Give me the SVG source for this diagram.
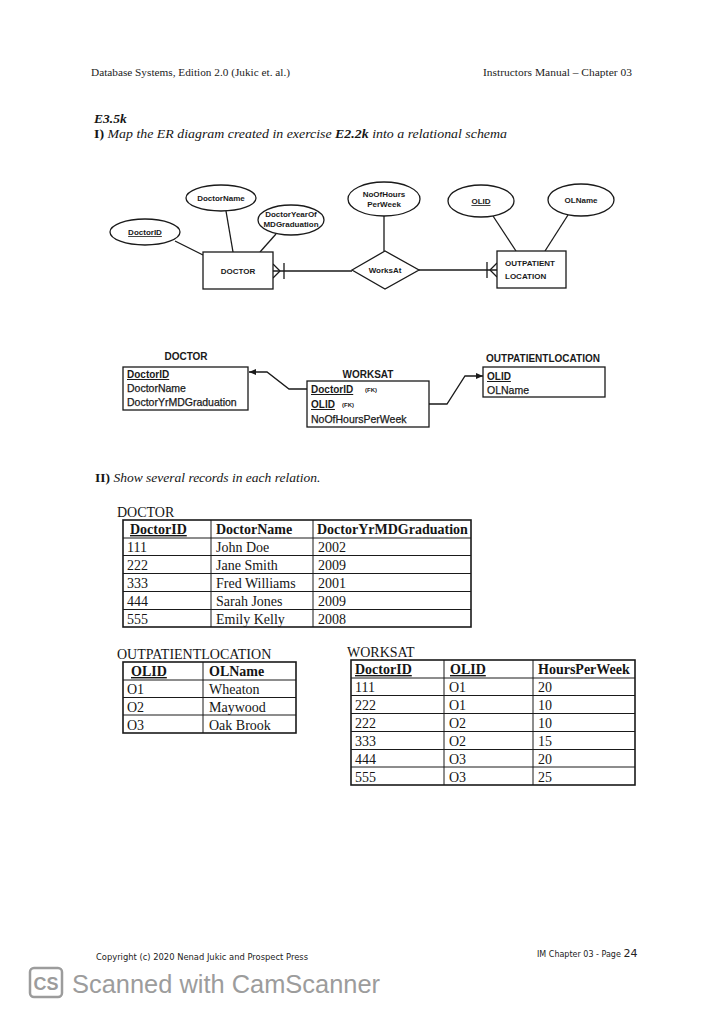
<svg xmlns="http://www.w3.org/2000/svg" width="727" height="1024" viewBox="0 0 727 1024">
<style>
.hdr{font-family:"Liberation Serif",serif;font-size:10.5px;fill:#222}
.er{font-family:"Liberation Sans",Arial,sans-serif;font-size:8px;font-weight:bold;fill:#1a1a1a;text-anchor:middle}
.shape{fill:#fff;stroke:#1a1a1a;stroke-width:1.3}
.ln{fill:none;stroke:#1a1a1a;stroke-width:1.3}
.sc{font-family:"Liberation Sans",Arial,sans-serif;font-size:10px;font-weight:bold;fill:#1a1a1a}
.scn{font-family:"Liberation Sans",Arial,sans-serif;font-size:10.5px;fill:#1a1a1a;stroke:#1a1a1a;stroke-width:0.25}
.fk{font-family:"Liberation Sans",Arial,sans-serif;font-size:6px;font-weight:bold;fill:#1a1a1a}
.tb{font-family:"Liberation Serif","Times New Roman",serif;font-size:14px;fill:#151515}
.th{font-family:"Liberation Serif","Times New Roman",serif;font-size:14px;font-weight:bold;fill:#151515}
.u{text-decoration:underline}
.outer{fill:#fff;stroke:#1a1a1a;stroke-width:1.6}
.grid{stroke:#1a1a1a;stroke-width:1}
.it{font-family:"Liberation Serif","Times New Roman",serif;font-size:13.5px;font-style:italic;fill:#151515}
.ft{font-family:"DejaVu Sans",sans-serif;font-size:8px;fill:#222}
</style>
<defs>
<marker id="arr" markerWidth="8" markerHeight="8" refX="7" refY="4" orient="auto" markerUnits="userSpaceOnUse">
<path d="M0,1 L7,4 L0,7 Z" fill="#1a1a1a"/>
</marker>
</defs>
<rect x="0" y="0" width="727" height="1024" fill="#ffffff"/>

<!-- Header -->
<g id="header">
<text class="hdr" x="91" y="76" textLength="199" lengthAdjust="spacingAndGlyphs">Database Systems, Edition 2.0 (Jukic et. al.)</text>
<text class="hdr" x="483" y="76" textLength="149" lengthAdjust="spacingAndGlyphs">Instructors Manual – Chapter 03</text>
<text x="94" y="123" style="font-family:'Liberation Serif',serif;font-size:13.5px;font-style:italic;font-weight:bold;fill:#151515">E3.5k</text>
<text x="94" y="138" class="it" textLength="413" lengthAdjust="spacingAndGlyphs"><tspan style="font-style:normal;font-weight:bold">I)</tspan> Map the ER diagram created in exercise <tspan font-weight="bold">E2.2k</tspan> into a relational schema</text>
</g>

<!-- ER diagram connectors -->
<g id="er-connectors">
<line class="ln" x1="175" y1="241" x2="203" y2="255"/>
<line class="ln" x1="226" y1="211" x2="233" y2="252"/>
<line class="ln" x1="276" y1="234" x2="260" y2="252"/>
<line class="ln" x1="384" y1="216" x2="384" y2="251"/>
<line class="ln" x1="493" y1="216" x2="516" y2="251"/>
<line class="ln" x1="568" y1="215" x2="545" y2="251"/>
<line class="ln" x1="273" y1="271" x2="352" y2="271"/>
<line class="ln" x1="273" y1="264" x2="280" y2="271"/>
<line class="ln" x1="273" y1="278" x2="280" y2="271"/>
<line class="ln" x1="284" y1="263" x2="284" y2="279"/>
<line class="ln" x1="419" y1="270" x2="497" y2="270"/>
<line class="ln" x1="497" y1="263" x2="490" y2="270"/>
<line class="ln" x1="497" y1="277" x2="490" y2="270"/>
<line class="ln" x1="487" y1="262" x2="487" y2="278"/>
</g>

<g id="er-doctorname"><ellipse class="shape" cx="221" cy="198" rx="35" ry="13"/><text class="er" x="221" y="201">DoctorName</text></g>
<g id="er-doctorid"><ellipse class="shape" cx="145" cy="232" rx="35" ry="13"/><text class="er u" x="145" y="235">DoctorID</text></g>
<g id="er-doctoryear"><ellipse class="shape" cx="291" cy="220" rx="33" ry="15"/><text class="er" x="291" y="217">DoctorYearOf</text><text class="er" x="291" y="227">MDGraduation</text></g>
<g id="er-doctor"><rect class="shape" x="203" y="252" width="70" height="37"/><text class="er" x="238" y="274">DOCTOR</text></g>
<g id="er-noofhours"><ellipse class="shape" cx="384" cy="199" rx="36" ry="17"/><text class="er" x="384" y="197">NoOfHours</text><text class="er" x="384" y="207">PerWeek</text></g>
<g id="er-worksat"><polygon class="shape" points="352,270 385,251 419,270 385,289"/><text class="er" x="385" y="273">WorksAt</text></g>
<g id="er-olid"><ellipse class="shape" cx="481" cy="201" rx="33" ry="16"/><text class="er u" x="481" y="204">OLID</text></g>
<g id="er-olname"><ellipse class="shape" cx="581" cy="200" rx="33" ry="16"/><text class="er" x="581" y="203">OLName</text></g>
<g id="er-outpatient"><rect class="shape" x="497" y="251" width="69" height="37"/><text class="er" x="505" y="266" style="text-anchor:start">OUTPATIENT</text><text class="er" x="505" y="279" style="text-anchor:start">LOCATION</text></g>

<!-- Relational schema -->
<g id="schema-connectors">
<polyline class="ln" points="307,389 289,389 267,372 249,372" marker-end="url(#arr)"/>
<polyline class="ln" points="429,404 447,404 465,376 483,376" marker-end="url(#arr)"/>
</g>
<g id="rs-doctor">
<text class="sc" x="186" y="360" text-anchor="middle">DOCTOR</text>
<rect class="shape" x="123" y="367" width="125" height="43"/>
<text class="sc u" x="127" y="378">DoctorID</text>
<text class="scn" x="127" y="392">DoctorName</text>
<text class="scn" x="127" y="406">DoctorYrMDGraduation</text>
</g>
<g id="rs-worksat">
<text class="sc" x="368" y="378" text-anchor="middle">WORKSAT</text>
<rect class="shape" x="307" y="381" width="122" height="46"/>
<text class="sc u" x="311" y="393">DoctorID</text><text class="fk" x="365" y="392">(FK)</text>
<text class="sc u" x="311" y="408">OLID</text><text class="fk" x="342" y="407">(FK)</text>
<text class="scn" x="311" y="423">NoOfHoursPerWeek</text>
</g>
<g id="rs-outpatient">
<text class="sc" x="543" y="362" text-anchor="middle">OUTPATIENTLOCATION</text>
<rect class="shape" x="483" y="367" width="122" height="30"/>
<text class="sc u" x="487" y="380">OLID</text>
<text class="scn" x="487" y="394">OLName</text>
</g>

<g id="section2">
<text x="95" y="482" class="it"><tspan style="font-style:normal;font-weight:bold">II)</tspan> Show several records in each relation.</text>
</g>

<!-- DOCTOR table -->
<g id="tbl-doctor">
<text class="tb" x="117" y="517">DOCTOR</text>
<rect class="outer" x="123" y="520" width="348" height="107"/>
<line class="grid" x1="211" y1="520" x2="211" y2="627"/>
<line class="grid" x1="313" y1="520" x2="313" y2="627"/>
<line class="grid" x1="123" y1="538" x2="471" y2="538"/>
<line class="grid" x1="123" y1="555.5" x2="471" y2="555.5"/>
<line class="grid" x1="123" y1="573.5" x2="471" y2="573.5"/>
<line class="grid" x1="123" y1="591.5" x2="471" y2="591.5"/>
<line class="grid" x1="123" y1="609.5" x2="471" y2="609.5"/>
<text class="th u" x="130" y="534">DoctorID</text><text class="th" x="216" y="534">DoctorName</text><text class="th" x="317" y="534">DoctorYrMDGraduation</text>
<text class="tb" x="127" y="552">111</text><text class="tb" x="216" y="552">John Doe</text><text class="tb" x="318" y="552">2002</text>
<text class="tb" x="127" y="570">222</text><text class="tb" x="216" y="570">Jane Smith</text><text class="tb" x="318" y="570">2009</text>
<text class="tb" x="127" y="588">333</text><text class="tb" x="216" y="588">Fred Williams</text><text class="tb" x="318" y="588">2001</text>
<text class="tb" x="127" y="606">444</text><text class="tb" x="216" y="606">Sarah Jones</text><text class="tb" x="318" y="606">2009</text>
<text class="tb" x="127" y="624">555</text><text class="tb" x="216" y="624">Emily Kelly</text><text class="tb" x="318" y="624">2008</text>
</g>

<!-- OUTPATIENTLOCATION table -->
<g id="tbl-outpatient">
<text class="tb" x="117" y="659">OUTPATIENTLOCATION</text>
<rect class="outer" x="123" y="662" width="173" height="71"/>
<line class="grid" x1="203" y1="662" x2="203" y2="733"/>
<line class="grid" x1="123" y1="680" x2="296" y2="680"/>
<line class="grid" x1="123" y1="697.5" x2="296" y2="697.5"/>
<line class="grid" x1="123" y1="715" x2="296" y2="715"/>
<text class="th u" x="131" y="676">OLID</text><text class="th" x="209" y="676">OLName</text>
<text class="tb" x="127" y="694">O1</text><text class="tb" x="209" y="694">Wheaton</text>
<text class="tb" x="127" y="712">O2</text><text class="tb" x="209" y="712">Maywood</text>
<text class="tb" x="127" y="730">O3</text><text class="tb" x="209" y="730">Oak Brook</text>
</g>

<!-- WORKSAT table -->
<g id="tbl-worksat">
<text class="tb" x="347" y="657">WORKSAT</text>
<rect class="outer" x="351" y="660" width="284" height="125"/>
<line class="grid" x1="444" y1="660" x2="444" y2="785"/>
<line class="grid" x1="533" y1="660" x2="533" y2="785"/>
<line class="grid" x1="351" y1="678" x2="635" y2="678"/>
<line class="grid" x1="351" y1="695.5" x2="635" y2="695.5"/>
<line class="grid" x1="351" y1="713.5" x2="635" y2="713.5"/>
<line class="grid" x1="351" y1="731.5" x2="635" y2="731.5"/>
<line class="grid" x1="351" y1="749.5" x2="635" y2="749.5"/>
<line class="grid" x1="351" y1="767" x2="635" y2="767"/>
<text class="th u" x="355" y="674">DoctorID</text><text class="th u" x="450" y="674">OLID</text><text class="th" x="538" y="674">HoursPerWeek</text>
<text class="tb" x="355" y="692">111</text><text class="tb" x="449" y="692">O1</text><text class="tb" x="538" y="692">20</text>
<text class="tb" x="355" y="710">222</text><text class="tb" x="449" y="710">O1</text><text class="tb" x="538" y="710">10</text>
<text class="tb" x="355" y="728">222</text><text class="tb" x="449" y="728">O2</text><text class="tb" x="538" y="728">10</text>
<text class="tb" x="355" y="746">333</text><text class="tb" x="449" y="746">O2</text><text class="tb" x="538" y="746">15</text>
<text class="tb" x="355" y="764">444</text><text class="tb" x="449" y="764">O3</text><text class="tb" x="538" y="764">20</text>
<text class="tb" x="355" y="782">555</text><text class="tb" x="449" y="782">O3</text><text class="tb" x="538" y="782">25</text>
</g>

<!-- Footer -->
<g id="footer">
<text class="ft" x="96" y="960" textLength="212" lengthAdjust="spacingAndGlyphs">Copyright (c) 2020 Nenad Jukic and Prospect Press</text>
<text class="ft" x="537" y="957">IM Chapter 03 - Page <tspan font-size="11">24</tspan></text>
<rect x="30" y="968" width="32" height="29" rx="4" fill="none" stroke="#9c9c9c" stroke-width="2.5"/>
<text x="46" y="990" text-anchor="middle" style="font-family:'Liberation Sans',Arial,sans-serif;font-size:18px;font-weight:bold;fill:#9c9c9c">CS</text>
<text x="72" y="993" textLength="308" lengthAdjust="spacingAndGlyphs" style="font-family:'Liberation Sans',Arial,sans-serif;font-size:26px;fill:#9c9c9c">Scanned with CamScanner</text>
</g>
</svg>
